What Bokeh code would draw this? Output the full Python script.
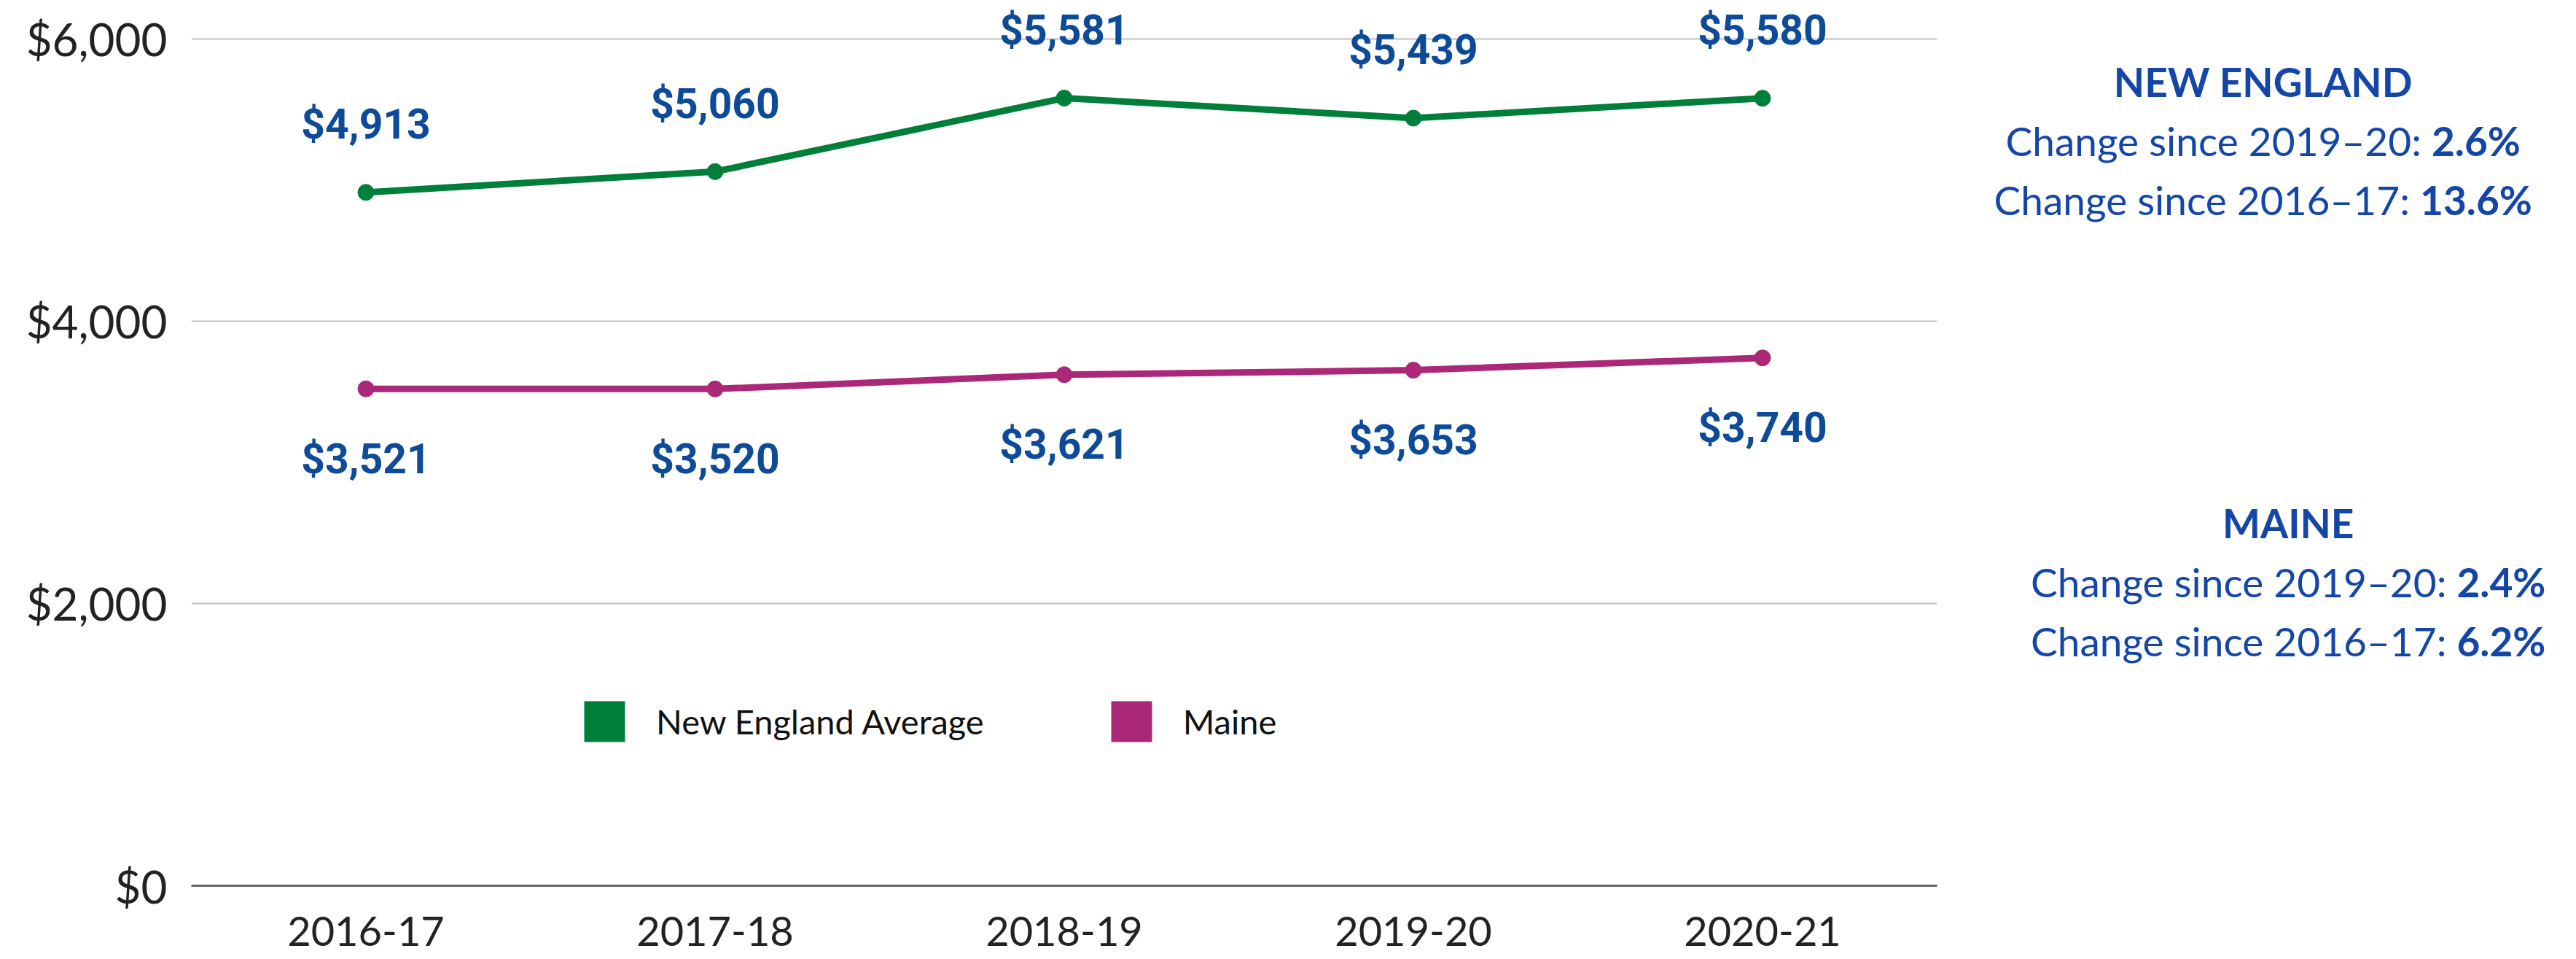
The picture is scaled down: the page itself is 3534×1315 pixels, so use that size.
import numpy as np
from bokeh.plotting import figure
from bokeh.models import (Legend, LegendItem, FixedTicker, NumeralTickFormatter,
                          Div, FactorRange, LabelSet, ColumnDataSource)
from bokeh.layouts import row
from bokeh.core.properties import value
from bokeh.embed import file_html
from bokeh.resources import INLINE

# ---- data ----
categories = ["2016-17", "2017-18", "2018-19", "2019-20", "2020-21"]
new_england = [4913, 5060, 5581, 5439, 5580]
maine = [3521, 3520, 3621, 3653, 3740]
y_ticks = [0, 2000, 4000, 6000]
series_names = ["New England Average", "Maine"]
ne_title = "NEW ENGLAND"
ne_change_labels = ["Change since 2019\u201320:", "Change since 2016\u201317:"]
ne_change_values = ["2.6%", "13.6%"]
me_title = "MAINE"
me_change_labels = ["Change since 2019\u201320:", "Change since 2016\u201317:"]
me_change_values = ["2.4%", "6.2%"]

# ---- styles ----
GREEN = "#007F3A"
MAGENTA = "#AB2777"
LABEL_BLUE = "#0D4A98"
TEXT_BLUE = "#1446A8"
AXIS_FONT = "Lato"

# frame extends a little above the $6,000 gridline so the top labels fit
p = figure(x_range=FactorRange(*categories, range_padding=0),
           y_range=(0, 6227),
           frame_width=2395, frame_height=1205,
           min_border_left=262, min_border_top=9, min_border_right=10,
           min_border_bottom=94,
           output_backend="svg", toolbar_location=None)
p.outline_line_color = None
p.background_fill_color = "white"
p.border_fill_color = "white"

# lines + markers
p.line(categories, new_england, line_width=9, color=GREEN)
p.scatter(categories, new_england, size=22, color=GREEN)
p.line(categories, maine, line_width=9, color=MAGENTA)
p.scatter(categories, maine, size=22, color=MAGENTA)

# data labels
ne_src = ColumnDataSource(dict(x=categories, y=new_england,
                               t=[f"${v:,}" for v in new_england]))
me_src = ColumnDataSource(dict(x=categories, y=maine,
                               t=[f"${v:,}" for v in maine]))
for src, off in ((ne_src, 93), (me_src, -96)):
    p.add_layout(LabelSet(x="x", y="y", text="t", source=src,
                          text_font=value("Roboto"), text_font_style="bold",
                          text_font_size="57px", text_color=LABEL_BLUE,
                          text_align="center", text_baseline="middle",
                          y_offset=off))

# legend with square swatches (renderers carry no visible data)
nan = [np.nan]
ne_sw = p.quad(left=nan, right=nan, top=nan, bottom=nan, fill_color=GREEN, line_color=None)
me_sw = p.quad(left=nan, right=nan, top=nan, bottom=nan, fill_color=MAGENTA, line_color=None)
legend = Legend(items=[LegendItem(label=series_names[0], renderers=[ne_sw]),
                       LegendItem(label=series_names[1], renderers=[me_sw])],
                orientation="horizontal", location=(532, 190),
                glyph_width=70, glyph_height=70, label_standoff=36, spacing=167,
                padding=0, margin=0, border_line_alpha=0, background_fill_alpha=0,
                label_text_font=AXIS_FONT, label_text_font_size="47px",
                label_text_color="#111111")
p.add_layout(legend, "center")

# axes
p.xgrid.grid_line_color = None
p.ygrid.grid_line_color = "#C0C0C0"
p.ygrid.grid_line_width = 2
p.ygrid.ticker = FixedTicker(ticks=y_ticks)

p.yaxis.ticker = FixedTicker(ticks=y_ticks)
p.yaxis.formatter = NumeralTickFormatter(format="$0,0")
p.yaxis.axis_line_color = None
p.yaxis.major_tick_line_color = None
p.yaxis.minor_tick_line_color = None
p.yaxis.major_label_standoff = 27
p.yaxis.major_label_text_font = AXIS_FONT
p.yaxis.major_label_text_font_size = "62px"
p.yaxis.major_label_text_color = "#222222"

p.xaxis.axis_line_color = "#666666"
p.xaxis.axis_line_width = 3
p.xaxis.major_tick_line_color = None
p.xaxis.minor_tick_line_color = None
p.xaxis.major_label_standoff = 36
p.xaxis.major_label_text_font = AXIS_FONT
p.xaxis.major_label_text_font_size = "56px"
p.xaxis.major_label_text_color = "#222222"


def block(title, labels, values, margin_top, pad_left):
    lines = [f'<div style="font-weight:bold;">{title}</div>']
    for lab, val in zip(labels, values):
        lines.append(f'<div>{lab} <b>{val}</b></div>')
    return (f'<div style="margin-top:{margin_top}px; padding-left:{pad_left}px;">'
            + "".join(lines) + "</div>")


html = ('<div style="font-family: Lato, sans-serif; color:%s; font-size:55px; '
        'line-height:81px; text-align:center; white-space:nowrap;">' % TEXT_BLUE
        + block(ne_title, ne_change_labels, ne_change_values, 72, 50)
        + block(me_title, me_change_labels, me_change_values, 362, 119)
        + "</div>")

div = Div(text=html, width=851, height=1290, margin=0)

layout = row(p, div, spacing=0)
open("out.html", "w").write(file_html(layout, INLINE))
